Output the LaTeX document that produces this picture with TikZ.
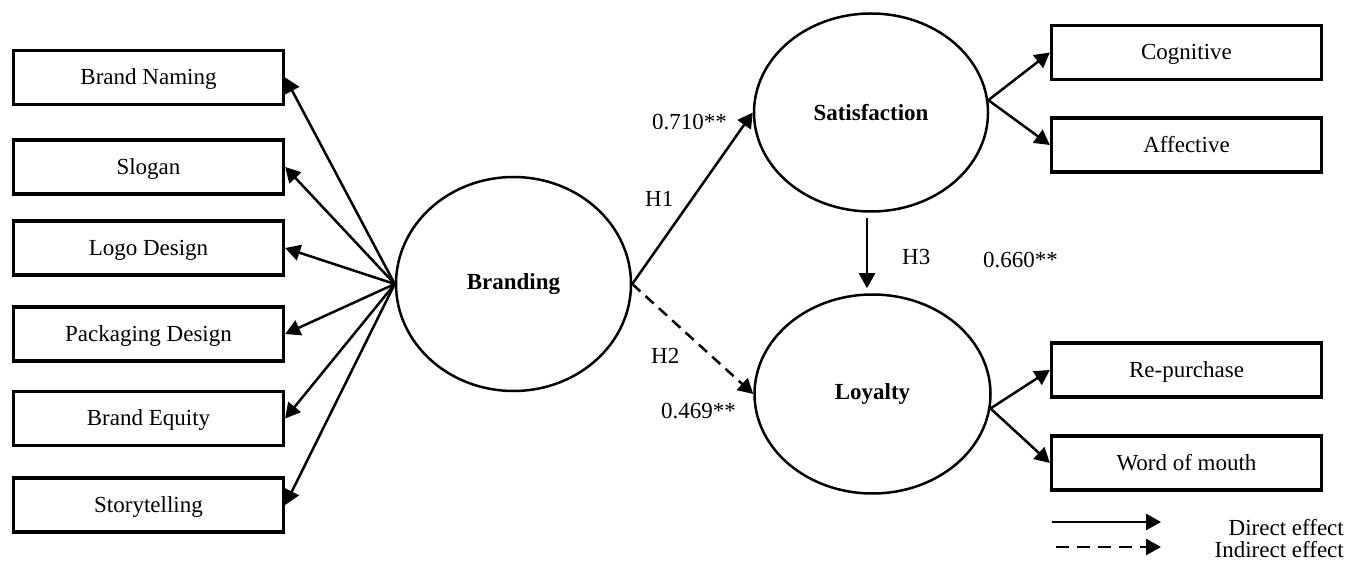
\documentclass[tikz,border=0pt]{standalone}
\usepackage{fontspec}
\setmainfont{Liberation Serif}
\usetikzlibrary{arrows.meta,shapes.geometric}
\begin{document}
\begin{tikzpicture}[x=1pt,y=-1pt,
  every node/.style={font=\fontsize{23}{27}\selectfont},
  box/.style={draw,line width=3.3pt,minimum width=270pt,minimum height=54pt,inner sep=0pt,text height=16pt,text depth=1.5pt},
  lat/.style={draw,ellipse,line width=2.5pt,inner sep=0pt,font=\fontsize{23}{27}\selectfont\bfseries},
  arr/.style={line width=2.5pt,-{Triangle[length=15pt,width=16pt]}},
  darr/.style={arr,dash pattern=on 11pt off 7pt},
  lbl/.style={anchor=base west,inner sep=0pt}]
\useasboundingbox (0,0) rectangle (1347,561);
% left indicator boxes
\node[box] (bn) at (148.5,77.5) {Brand Naming};
\node[box] (sl) at (148.5,167) {Slogan};
\node[box] (lg) at (148.5,248) {Logo Design};
\node[box] (pk) at (148.5,334) {Packaging Design};
\node[box] (be) at (148.5,418.5) {Brand Equity};
\node[box] (st) at (148.5,505) {Storytelling};
% latent variables
\node[lat,minimum width=235pt,minimum height=214pt] (br) at (513.5,284) {Branding};
\node[lat,minimum width=234pt,minimum height=198pt] (sat) at (871,112.5) {Satisfaction};
\node[lat,minimum width=236pt,minimum height=199pt] (loy) at (872.5,394) {Loyalty};
% right indicator boxes
\node[box] (cg) at (1186.5,52.5) {Cognitive};
\node[box] (af) at (1186.5,145) {Affective};
\node[box] (rp) at (1186.5,370) {Re-purchase};
\node[box] (wm) at (1186.5,463) {Word of mouth};
% arrows from Branding
\foreach \b in {bn,sl,lg,pk,be,st} \draw[arr] (br.west) -- (\b.east);
\draw[arr] (br.east) -- (sat.west);
\draw[darr] (br.east) -- (loy.west);
\draw[arr,shorten <=5pt,shorten >=5pt] ([xshift=-4pt]sat.south) -- ([xshift=-5.5pt]loy.north);
\draw[arr] (sat.6) -- (cg.west);
\draw[arr] (sat.6) -- (af.west);
\draw[arr] (loy.-7) -- (rp.west);
\draw[arr] (loy.-7) -- (wm.west);
% path labels
\node[lbl] (l1) at (652,130) {0.710**};
\node[lbl] (h1) at (645,207) {H1};
\node[lbl] (h3) at (902,265) {H3};
\node[lbl] (l3) at (983,268) {0.660**};
\node[lbl] (h2) at (651,363) {H2};
\node[lbl] (l2) at (661,418) {0.469**};
% legend
\coordinate (d1) at (1052,522);
\coordinate (d2) at (1161,522);
\coordinate (i1) at (1056,547);
\coordinate (i2) at (1161,547);
\draw[arr] (d1) -- (d2);
\draw[darr,dash pattern=on 13pt off 8pt] (i1) -- (i2);
\node[anchor=base east,inner sep=0pt] (dt) at (1344,535) {Direct effect};
\node[anchor=base east,inner sep=0pt] (it) at (1344,557) {Indirect effect};
\end{tikzpicture}
\end{document}
